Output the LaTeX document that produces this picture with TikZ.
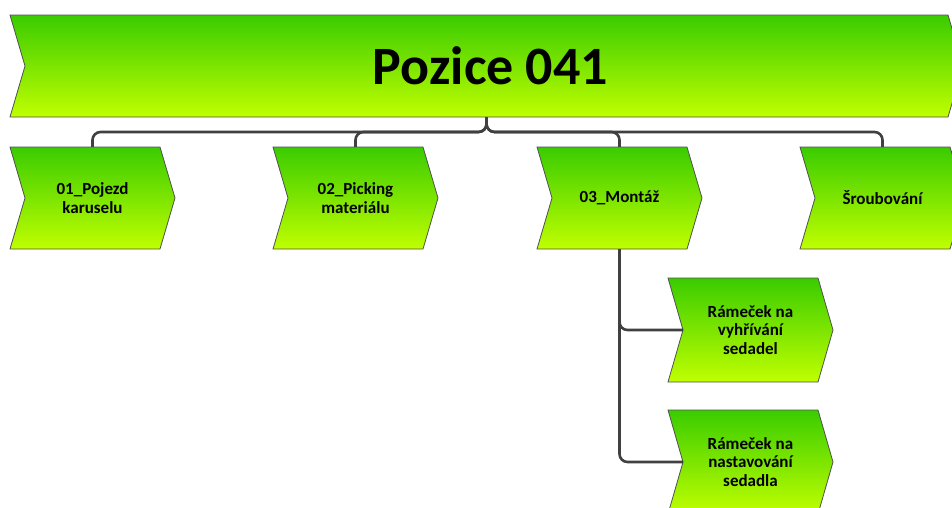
\documentclass[tikz,border=0pt]{standalone}
\usepackage{fontspec}
\setmainfont{Carlito}
\definecolor{topgreen}{RGB}{58,204,0}
\definecolor{lowgreen}{RGB}{192,255,0}
\definecolor{linegray}{RGB}{64,64,64}
\definecolor{edgegray}{RGB}{80,80,80}

% chevron box: name, left, top, body width, height, label style, text
\newcommand\chevbox[7]{%
  \path[chevfill] (#2,#3) -- ++(#4,0) -- ++(15,#5/2) -- ++(-15,#5/2)
    -- ++(-#4,0) -- ++(15,-#5/2) -- cycle;
  \node[#6, minimum width=#4+15, minimum height=#5, inner sep=0pt]
    (#1) at (#2+#4/2+7.5, #3+#5/2) {#7};
  \coordinate (#1-in) at (#2+15, #3+#5/2);
}

\begin{document}
\begin{tikzpicture}[x=1pt, y=-1pt,
  chevfill/.style={draw=edgegray, line width=0.8pt,
    top color=topgreen, bottom color=lowgreen},
  conn/.style={draw=linegray, line width=2.6pt, rounded corners=8pt},
  boxlabel/.style={font=\bfseries\fontsize{17}{18.5}\selectfont,
    align=center, text=black},
  titlelabel/.style={font=\bfseries\fontsize{54}{60}\selectfont,
    align=center, text=black}]
\clip (0,0) rectangle (952,507);
\fill[white] (0,0) rectangle (952,507);

% header
\chevbox{top}{10}{15}{938}{102}{titlelabel}{\hspace*{8pt}Pozice 041}

% first level
\chevbox{b1}{10}{147}{150}{102}{boxlabel}{01\_Pojezd\\karuselu}
\chevbox{b2}{273}{147}{150}{102}{boxlabel}{02\_Picking\\materiálu}
\chevbox{b3}{537}{147}{150}{102}{boxlabel}{03\_Montáž}
\chevbox{b4}{800}{147}{150}{102}{boxlabel}{Šroubování}

% second level under 03
\chevbox{s1}{668}{278}{150}{104}{boxlabel}{Rámeček na\\vyhřívání\\sedadel}
\chevbox{s2}{668}{410}{150}{104}{boxlabel}{Rámeček na\\nastavování\\sedadla}

% connectors
\coordinate (bus) at (487,132);
\foreach \b in {b1,b2,b3,b4}
  \draw[conn] (top.south) |- (\b.north |- bus) -- (\b.north);
\draw[conn] (b3.south) |- (s1-in);
\draw[conn] (b3.south) |- (s2-in);
\end{tikzpicture}
\end{document}
